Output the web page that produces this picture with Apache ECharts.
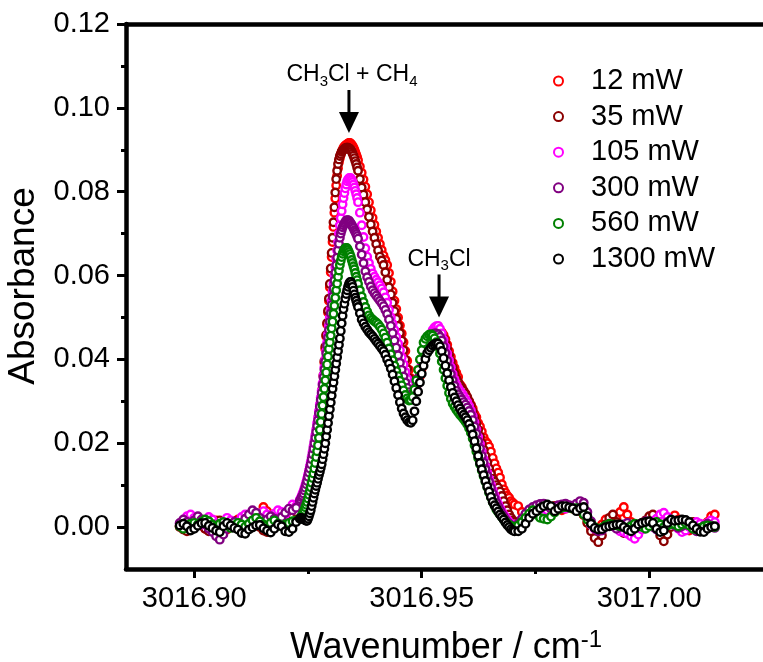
<!DOCTYPE html>
<html>
<head>
<meta charset="utf-8">
<script src="https://cdn.jsdelivr.net/npm/echarts@6/dist/echarts.min.js"></script>
<style>
  html, body { margin: 0; padding: 0; background: #ffffff; }
  #chart { width: 763px; height: 662px; }
</style>
</head>
<body>
<div id="chart"></div>
<script>
// Wavenumber grid of the scans (cm-1): coarse on the baseline, finer across the bands
const wavenumber = [
  // 3016.8968 - 3016.9232, 0.0008 steps
  3016.8968, 3016.8976, 3016.8984, 3016.8992, 3016.9000, 3016.9008, 3016.9016, 3016.9024, 3016.9032, 3016.9040,
  3016.9048, 3016.9056, 3016.9064, 3016.9072, 3016.9080, 3016.9088, 3016.9096, 3016.9104, 3016.9112, 3016.9120,
  3016.9128, 3016.9136, 3016.9144, 3016.9152, 3016.9160, 3016.9168, 3016.9176, 3016.9184, 3016.9192, 3016.9200,
  3016.9208, 3016.9216, 3016.9224, 3016.9232,
  // 3016.9234 - 3016.9360, 0.0002 steps
  3016.9234, 3016.9236, 3016.9238, 3016.9240, 3016.9242, 3016.9244, 3016.9246, 3016.9248,
  3016.9250, 3016.9252, 3016.9254, 3016.9256, 3016.9258, 3016.9260, 3016.9262, 3016.9264,
  3016.9266, 3016.9268, 3016.9270, 3016.9272, 3016.9274, 3016.9276, 3016.9278, 3016.9280,
  3016.9282, 3016.9284, 3016.9286, 3016.9288, 3016.9290, 3016.9292, 3016.9294, 3016.9296,
  3016.9298, 3016.9300, 3016.9302, 3016.9304, 3016.9306, 3016.9308, 3016.9310, 3016.9312,
  3016.9314, 3016.9316, 3016.9318, 3016.9320, 3016.9322, 3016.9324, 3016.9326, 3016.9328,
  3016.9330, 3016.9332, 3016.9334, 3016.9336, 3016.9338, 3016.9340, 3016.9342, 3016.9344,
  3016.9346, 3016.9348, 3016.9350, 3016.9352, 3016.9354, 3016.9356, 3016.9358, 3016.9360,
  // 3016.9364 - 3016.9704, 0.0004 steps
  3016.9364, 3016.9368, 3016.9372, 3016.9376, 3016.9380, 3016.9384, 3016.9388, 3016.9392, 3016.9396, 3016.9400,
  3016.9404, 3016.9408, 3016.9412, 3016.9416, 3016.9420, 3016.9424, 3016.9428, 3016.9432, 3016.9436, 3016.9440,
  3016.9444, 3016.9448, 3016.9452, 3016.9456, 3016.9460, 3016.9464, 3016.9468, 3016.9472, 3016.9476, 3016.9480,
  3016.9484, 3016.9488, 3016.9492, 3016.9496, 3016.9500, 3016.9504, 3016.9508, 3016.9512, 3016.9516, 3016.9520,
  3016.9524, 3016.9528, 3016.9532, 3016.9536, 3016.9540, 3016.9544, 3016.9548, 3016.9552, 3016.9556, 3016.9560,
  3016.9564, 3016.9568, 3016.9572, 3016.9576, 3016.9580, 3016.9584, 3016.9588, 3016.9592, 3016.9596, 3016.9600,
  3016.9604, 3016.9608, 3016.9612, 3016.9616, 3016.9620, 3016.9624, 3016.9628, 3016.9632, 3016.9636, 3016.9640,
  3016.9644, 3016.9648, 3016.9652, 3016.9656, 3016.9660, 3016.9664, 3016.9668, 3016.9672, 3016.9676, 3016.9680,
  3016.9684, 3016.9688, 3016.9692, 3016.9696, 3016.9700, 3016.9704,
  // 3016.9712 - 3017.0144, 0.0008 steps
  3016.9712, 3016.9720, 3016.9728, 3016.9736, 3016.9744, 3016.9752, 3016.9760, 3016.9768, 3016.9776, 3016.9784,
  3016.9792, 3016.9800, 3016.9808, 3016.9816, 3016.9824, 3016.9832, 3016.9840, 3016.9848, 3016.9856, 3016.9864,
  3016.9872, 3016.9880, 3016.9888, 3016.9896, 3016.9904, 3016.9912, 3016.9920, 3016.9928, 3016.9936, 3016.9944,
  3016.9952, 3016.9960, 3016.9968, 3016.9976, 3016.9984, 3016.9992, 3017.0000, 3017.0008, 3017.0016, 3017.0024,
  3017.0032, 3017.0040, 3017.0048, 3017.0056, 3017.0064, 3017.0072, 3017.0080, 3017.0088, 3017.0096, 3017.0104,
  3017.0112, 3017.0120, 3017.0128, 3017.0136, 3017.0144
];

// Absorbance at each laser power, on the grid above
const abs12mW = [
  0.0002, -0.0004, -0.0008, -0.0002, 0.0006, 0.0012, 0.0004, -0.0004, 0.0002, 0.0010,
  0.0016, 0.0008, 0.0000, -0.0006, 0.0002, 0.0012, 0.0018, 0.0010, 0.0002, -0.0004,
  0.0004, 0.0016, 0.0030, 0.0048, 0.0038, 0.0020, 0.0008, 0.0004, 0.0012, 0.0022,
  0.0018, 0.0024, 0.0038, 0.0055,
  0.0060, 0.0066, 0.0072, 0.0078, 0.0085, 0.0092, 0.0100, 0.0108,
  0.0117, 0.0126, 0.0135, 0.0145, 0.0155, 0.0165, 0.0175, 0.0185,
  0.0196, 0.0208, 0.0221, 0.0235, 0.0250, 0.0267, 0.0285, 0.0305,
  0.0330, 0.0360, 0.0392, 0.0425, 0.0455, 0.0484, 0.0512, 0.0540,
  0.0572, 0.0608, 0.0644, 0.0680, 0.0716, 0.0750, 0.0784, 0.0815,
  0.0838, 0.0856, 0.0870, 0.0880, 0.0888, 0.0895, 0.0900, 0.0905,
  0.0908, 0.0910, 0.0912, 0.0913, 0.0915, 0.0916, 0.0916, 0.0915,
  0.0912, 0.0909, 0.0905, 0.0900, 0.0894, 0.0888, 0.0882, 0.0875,
  0.0860, 0.0845, 0.0829, 0.0812, 0.0794, 0.0775, 0.0756, 0.0738, 0.0721, 0.0705,
  0.0690, 0.0675, 0.0661, 0.0648, 0.0637, 0.0625, 0.0606, 0.0585, 0.0562, 0.0540,
  0.0520, 0.0500, 0.0481, 0.0462, 0.0441, 0.0420, 0.0397, 0.0375, 0.0355, 0.0340,
  0.0334, 0.0335, 0.0345, 0.0360, 0.0379, 0.0398, 0.0415, 0.0430, 0.0442, 0.0452,
  0.0460, 0.0465, 0.0468, 0.0470, 0.0469, 0.0465, 0.0458, 0.0448, 0.0435, 0.0420,
  0.0406, 0.0392, 0.0380, 0.0368, 0.0358, 0.0340, 0.0334, 0.0322, 0.0318, 0.0305,
  0.0300, 0.0292, 0.0283, 0.0270, 0.0262, 0.0248, 0.0240, 0.0228, 0.0214, 0.0205,
  0.0200, 0.0192, 0.0180, 0.0165, 0.0152, 0.0140, 0.0130, 0.0118, 0.0102, 0.0090,
  0.0082, 0.0075, 0.0070, 0.0062, 0.0058, 0.0054,
  0.0050, 0.0036, 0.0030, 0.0034, 0.0040, 0.0044, 0.0048, 0.0046, 0.0042, 0.0046,
  0.0050, 0.0046, 0.0040, 0.0044, 0.0048, 0.0044, 0.0040, 0.0038, 0.0028, 0.0012,
  -0.0004, -0.0014, -0.0008, 0.0006, 0.0018, 0.0010, 0.0004, 0.0020, 0.0036, 0.0048,
  0.0030, 0.0012, 0.0000, -0.0006, 0.0004, 0.0014, 0.0020, 0.0016, 0.0008, 0.0000,
  -0.0008, 0.0002, 0.0012, 0.0028, 0.0018, 0.0006, -0.0002, -0.0008, 0.0000, 0.0008,
  0.0004, 0.0000, 0.0012, 0.0026, 0.0030
];
const abs35mW = [
  0.0000, -0.0006, -0.0010, -0.0004, 0.0004, 0.0010, 0.0004, -0.0004, -0.0010, 0.0000,
  0.0010, 0.0016, 0.0008, 0.0000, 0.0006, 0.0014, 0.0010, 0.0002, -0.0004, 0.0004,
  0.0012, 0.0006, 0.0000, -0.0008, -0.0012, -0.0004, 0.0006, 0.0014, 0.0010, 0.0004,
  0.0012, 0.0024, 0.0036, 0.0052,
  0.0057, 0.0063, 0.0069, 0.0075, 0.0082, 0.0089, 0.0097, 0.0105,
  0.0113, 0.0122, 0.0131, 0.0140, 0.0147, 0.0155, 0.0162, 0.0170,
  0.0182, 0.0195, 0.0210, 0.0225, 0.0242, 0.0260, 0.0280, 0.0300,
  0.0330, 0.0362, 0.0396, 0.0430, 0.0458, 0.0487, 0.0516, 0.0545,
  0.0580, 0.0617, 0.0654, 0.0690, 0.0727, 0.0763, 0.0798, 0.0830,
  0.0850, 0.0866, 0.0877, 0.0885, 0.0890, 0.0895, 0.0898, 0.0900,
  0.0902, 0.0904, 0.0905, 0.0905, 0.0905, 0.0904, 0.0902, 0.0900,
  0.0896, 0.0891, 0.0886, 0.0880, 0.0873, 0.0866, 0.0858, 0.0850,
  0.0830, 0.0810, 0.0793, 0.0775, 0.0758, 0.0740, 0.0722, 0.0705, 0.0690, 0.0675,
  0.0660, 0.0645, 0.0636, 0.0625, 0.0608, 0.0590, 0.0572, 0.0555, 0.0535, 0.0515,
  0.0497, 0.0480, 0.0463, 0.0445, 0.0422, 0.0400, 0.0377, 0.0355, 0.0340, 0.0330,
  0.0332, 0.0340, 0.0354, 0.0370, 0.0388, 0.0405, 0.0420, 0.0432, 0.0442, 0.0450,
  0.0457, 0.0462, 0.0465, 0.0466, 0.0463, 0.0458, 0.0449, 0.0438, 0.0424, 0.0410,
  0.0395, 0.0380, 0.0367, 0.0355, 0.0346, 0.0338, 0.0331, 0.0325, 0.0318, 0.0310,
  0.0300, 0.0290, 0.0276, 0.0262, 0.0247, 0.0232, 0.0216, 0.0200, 0.0185, 0.0170,
  0.0155, 0.0140, 0.0127, 0.0115, 0.0108, 0.0100, 0.0094, 0.0085, 0.0074, 0.0062,
  0.0050, 0.0040, 0.0030, 0.0022, 0.0016, 0.0012,
  0.0010, 0.0018, 0.0028, 0.0036, 0.0042, 0.0046, 0.0050, 0.0048, 0.0044, 0.0046,
  0.0050, 0.0048, 0.0044, 0.0046, 0.0050, 0.0048, 0.0044, 0.0040, 0.0030, 0.0010,
  -0.0010, -0.0026, -0.0036, -0.0020, 0.0006, 0.0022, 0.0030, 0.0012, -0.0006, -0.0014,
  -0.0010, -0.0020, -0.0012, 0.0000, 0.0010, 0.0016, 0.0026, 0.0030, 0.0018, -0.0020,
  -0.0034, -0.0018, 0.0000, 0.0010, 0.0006, 0.0000, -0.0004, 0.0004, 0.0012, 0.0006,
  -0.0002, -0.0006, 0.0002, 0.0008, 0.0004
];
const abs105mW = [
  0.0008, 0.0016, 0.0026, 0.0030, 0.0022, 0.0012, 0.0006, 0.0014, 0.0024, 0.0018,
  0.0008, 0.0004, 0.0012, 0.0022, 0.0016, 0.0006, 0.0012, 0.0024, 0.0030, 0.0022,
  0.0014, 0.0020, 0.0030, 0.0038, 0.0030, 0.0024, 0.0032, 0.0040, 0.0036, 0.0030,
  0.0042, 0.0054, 0.0050, 0.0065,
  0.0069, 0.0074, 0.0080, 0.0085, 0.0092, 0.0099, 0.0107, 0.0115,
  0.0125, 0.0135, 0.0145, 0.0155, 0.0167, 0.0179, 0.0192, 0.0205,
  0.0219, 0.0233, 0.0248, 0.0262, 0.0277, 0.0293, 0.0309, 0.0325,
  0.0343, 0.0362, 0.0381, 0.0400, 0.0420, 0.0440, 0.0460, 0.0480,
  0.0500, 0.0520, 0.0540, 0.0560, 0.0580, 0.0600, 0.0620, 0.0640,
  0.0660, 0.0680, 0.0700, 0.0720, 0.0737, 0.0754, 0.0770, 0.0785,
  0.0797, 0.0808, 0.0817, 0.0825, 0.0829, 0.0832, 0.0833, 0.0832,
  0.0828, 0.0823, 0.0817, 0.0810, 0.0802, 0.0794, 0.0785, 0.0775,
  0.0750, 0.0720, 0.0692, 0.0665, 0.0645, 0.0630, 0.0616, 0.0605, 0.0597, 0.0590,
  0.0584, 0.0577, 0.0569, 0.0560, 0.0548, 0.0535, 0.0518, 0.0500, 0.0485, 0.0470,
  0.0454, 0.0438, 0.0422, 0.0405, 0.0388, 0.0370, 0.0354, 0.0340, 0.0328, 0.0320,
  0.0322, 0.0330, 0.0346, 0.0365, 0.0385, 0.0405, 0.0423, 0.0440, 0.0452, 0.0462,
  0.0470, 0.0476, 0.0479, 0.0480, 0.0473, 0.0462, 0.0447, 0.0430, 0.0414, 0.0398,
  0.0381, 0.0365, 0.0352, 0.0340, 0.0332, 0.0325, 0.0319, 0.0312, 0.0305, 0.0298,
  0.0289, 0.0278, 0.0265, 0.0250, 0.0233, 0.0215, 0.0198, 0.0180, 0.0162, 0.0145,
  0.0130, 0.0115, 0.0101, 0.0088, 0.0076, 0.0065, 0.0055, 0.0046, 0.0038, 0.0030,
  0.0024, 0.0018, 0.0012, 0.0008, 0.0005, 0.0004,
  0.0008, 0.0018, 0.0028, 0.0036, 0.0042, 0.0046, 0.0048, 0.0044, 0.0040, 0.0044,
  0.0048, 0.0050, 0.0048, 0.0044, 0.0046, 0.0050, 0.0052, 0.0046, 0.0036, 0.0020,
  0.0006, -0.0004, -0.0008, -0.0004, 0.0002, 0.0008, 0.0004, -0.0002, -0.0010, -0.0012,
  -0.0016, -0.0022, -0.0028, -0.0018, -0.0006, 0.0004, 0.0010, 0.0014, 0.0020, 0.0030,
  0.0034, 0.0024, 0.0012, 0.0004, -0.0004, -0.0012, -0.0008, 0.0000, 0.0006, 0.0012,
  0.0008, 0.0004, 0.0010, 0.0016, 0.0012
];
const abs300mW = [
  0.0010, 0.0018, 0.0012, 0.0006, 0.0016, 0.0026, 0.0018, 0.0006, -0.0004, -0.0012,
  -0.0022, -0.0030, -0.0018, -0.0004, 0.0006, 0.0012, 0.0004, 0.0010, 0.0020, 0.0030,
  0.0040, 0.0034, 0.0022, 0.0012, 0.0018, 0.0026, 0.0020, 0.0014, 0.0024, 0.0034,
  0.0044, 0.0040, 0.0046, 0.0062,
  0.0066, 0.0071, 0.0075, 0.0080, 0.0087, 0.0094, 0.0102, 0.0110,
  0.0120, 0.0130, 0.0140, 0.0150, 0.0162, 0.0174, 0.0187, 0.0200,
  0.0213, 0.0227, 0.0241, 0.0255, 0.0271, 0.0287, 0.0303, 0.0320,
  0.0339, 0.0357, 0.0376, 0.0395, 0.0414, 0.0433, 0.0452, 0.0470,
  0.0490, 0.0510, 0.0530, 0.0550, 0.0569, 0.0588, 0.0607, 0.0625,
  0.0643, 0.0660, 0.0676, 0.0690, 0.0700, 0.0708, 0.0715, 0.0720,
  0.0724, 0.0728, 0.0731, 0.0732, 0.0732, 0.0731, 0.0728, 0.0725,
  0.0721, 0.0717, 0.0713, 0.0708, 0.0704, 0.0699, 0.0694, 0.0688,
  0.0670, 0.0650, 0.0630, 0.0610, 0.0596, 0.0585, 0.0574, 0.0565, 0.0558, 0.0552,
  0.0546, 0.0540, 0.0534, 0.0527, 0.0518, 0.0508, 0.0495, 0.0480, 0.0463, 0.0445,
  0.0428, 0.0410, 0.0392, 0.0375, 0.0359, 0.0345, 0.0332, 0.0322, 0.0316, 0.0315,
  0.0322, 0.0335, 0.0355, 0.0375, 0.0395, 0.0415, 0.0430, 0.0442, 0.0449, 0.0455,
  0.0459, 0.0462, 0.0462, 0.0460, 0.0454, 0.0445, 0.0431, 0.0415, 0.0397, 0.0380,
  0.0365, 0.0350, 0.0337, 0.0325, 0.0317, 0.0310, 0.0304, 0.0298, 0.0292, 0.0285,
  0.0277, 0.0268, 0.0255, 0.0240, 0.0223, 0.0205, 0.0188, 0.0170, 0.0154, 0.0138,
  0.0123, 0.0108, 0.0094, 0.0080, 0.0069, 0.0058, 0.0049, 0.0040, 0.0032, 0.0025,
  0.0018, 0.0012, 0.0008, 0.0004, 0.0002, 0.0000,
  0.0008, 0.0020, 0.0032, 0.0042, 0.0048, 0.0052, 0.0055, 0.0056, 0.0050, 0.0044,
  0.0046, 0.0052, 0.0054, 0.0056, 0.0052, 0.0050, 0.0056, 0.0062, 0.0058, 0.0036,
  0.0014, -0.0002, -0.0010, -0.0008, 0.0002, 0.0006, 0.0002, -0.0004, 0.0000, 0.0006,
  0.0010, 0.0004, -0.0002, 0.0004, 0.0010, 0.0014, 0.0008, 0.0000, -0.0006, -0.0002,
  0.0006, 0.0012, 0.0010, 0.0004, -0.0002, 0.0002, 0.0008, 0.0004, -0.0004, -0.0010,
  -0.0006, 0.0002, 0.0008, 0.0004, -0.0002
];
const abs560mW = [
  0.0002, -0.0004, 0.0002, 0.0008, 0.0010, 0.0006, 0.0012, 0.0018, 0.0014, 0.0006,
  0.0002, 0.0008, 0.0012, 0.0004, -0.0002, 0.0004, 0.0010, 0.0006, 0.0001, 0.0008,
  0.0016, 0.0022, 0.0014, 0.0006, 0.0003, 0.0010, 0.0016, 0.0008, 0.0002, 0.0006,
  0.0010, 0.0014, 0.0016, 0.0020,
  0.0023, 0.0027, 0.0031, 0.0035, 0.0041, 0.0047, 0.0053, 0.0060,
  0.0068, 0.0077, 0.0086, 0.0095, 0.0106, 0.0117, 0.0128, 0.0140,
  0.0153, 0.0167, 0.0181, 0.0195, 0.0213, 0.0232, 0.0251, 0.0270,
  0.0290, 0.0310, 0.0330, 0.0350, 0.0369, 0.0388, 0.0407, 0.0425,
  0.0441, 0.0457, 0.0474, 0.0490, 0.0509, 0.0528, 0.0547, 0.0565,
  0.0581, 0.0597, 0.0612, 0.0625, 0.0635, 0.0644, 0.0652, 0.0658,
  0.0662, 0.0665, 0.0666, 0.0665, 0.0661, 0.0656, 0.0651, 0.0645,
  0.0637, 0.0630, 0.0622, 0.0615, 0.0606, 0.0597, 0.0589, 0.0580,
  0.0565, 0.0550, 0.0537, 0.0525, 0.0514, 0.0505, 0.0499, 0.0495, 0.0491, 0.0488,
  0.0484, 0.0478, 0.0471, 0.0462, 0.0452, 0.0440, 0.0426, 0.0412, 0.0398, 0.0385,
  0.0372, 0.0360, 0.0349, 0.0338, 0.0326, 0.0315, 0.0307, 0.0302, 0.0303, 0.0310,
  0.0328, 0.0350, 0.0375, 0.0400, 0.0422, 0.0440, 0.0449, 0.0455, 0.0459, 0.0460,
  0.0457, 0.0450, 0.0441, 0.0430, 0.0414, 0.0395, 0.0375, 0.0355, 0.0337, 0.0320,
  0.0306, 0.0295, 0.0287, 0.0280, 0.0274, 0.0268, 0.0263, 0.0258, 0.0252, 0.0245,
  0.0236, 0.0225, 0.0211, 0.0195, 0.0180, 0.0165, 0.0150, 0.0135, 0.0121, 0.0108,
  0.0095, 0.0082, 0.0071, 0.0060, 0.0051, 0.0042, 0.0036, 0.0030, 0.0024, 0.0018,
  0.0013, 0.0008, 0.0005, 0.0002, 0.0001, 0.0000,
  0.0004, 0.0012, 0.0022, 0.0032, 0.0040, 0.0030, 0.0022, 0.0020, 0.0018, 0.0025,
  0.0035, 0.0042, 0.0046, 0.0048, 0.0046, 0.0044, 0.0045, 0.0040, 0.0030, 0.0018,
  0.0008, 0.0000, -0.0004, -0.0002, 0.0004, 0.0008, 0.0006, 0.0004, 0.0002, 0.0000,
  -0.0004, 0.0002, 0.0008, 0.0006, 0.0000, -0.0004, 0.0002, 0.0008, 0.0012, 0.0006,
  0.0000, 0.0004, 0.0008, 0.0006, 0.0002, 0.0006, 0.0010, 0.0004, -0.0004, -0.0006,
  -0.0002, 0.0002, 0.0004, 0.0002, 0.0000
];
const abs1300mW = [
  0.0004, 0.0008, 0.0002, -0.0008, -0.0004, 0.0003, 0.0009, 0.0010, 0.0003, -0.0002,
  -0.0008, -0.0012, 0.0002, 0.0010, 0.0004, -0.0002, -0.0006, -0.0014, -0.0016, -0.0006,
  -0.0001, 0.0004, 0.0005, -0.0003, -0.0008, -0.0013, -0.0004, 0.0006, 0.0002, -0.0010,
  -0.0012, -0.0004, 0.0012, 0.0020,
  0.0022, 0.0021, 0.0020, 0.0020, 0.0018, 0.0016, 0.0015, 0.0015,
  0.0020, 0.0026, 0.0033, 0.0040, 0.0050, 0.0060, 0.0070, 0.0080,
  0.0089, 0.0098, 0.0106, 0.0115, 0.0124, 0.0132, 0.0141, 0.0150,
  0.0162, 0.0174, 0.0187, 0.0200, 0.0216, 0.0232, 0.0248, 0.0265,
  0.0281, 0.0297, 0.0314, 0.0330, 0.0345, 0.0360, 0.0375, 0.0390,
  0.0405, 0.0420, 0.0435, 0.0450, 0.0468, 0.0486, 0.0504, 0.0520,
  0.0533, 0.0545, 0.0556, 0.0565, 0.0573, 0.0580, 0.0584, 0.0585,
  0.0580, 0.0573, 0.0564, 0.0555, 0.0547, 0.0540, 0.0532, 0.0525,
  0.0510, 0.0495, 0.0486, 0.0478, 0.0471, 0.0465, 0.0460, 0.0455, 0.0449, 0.0443,
  0.0438, 0.0432, 0.0426, 0.0420, 0.0411, 0.0400, 0.0390, 0.0378, 0.0364, 0.0348,
  0.0332, 0.0315, 0.0298, 0.0283, 0.0271, 0.0262, 0.0255, 0.0250, 0.0249, 0.0255,
  0.0276, 0.0300, 0.0323, 0.0345, 0.0366, 0.0385, 0.0401, 0.0415, 0.0422, 0.0428,
  0.0433, 0.0436, 0.0438, 0.0438, 0.0431, 0.0420, 0.0403, 0.0385, 0.0367, 0.0350,
  0.0334, 0.0320, 0.0309, 0.0300, 0.0291, 0.0283, 0.0275, 0.0268, 0.0262, 0.0255,
  0.0246, 0.0235, 0.0221, 0.0205, 0.0188, 0.0170, 0.0153, 0.0138, 0.0124, 0.0110,
  0.0097, 0.0085, 0.0072, 0.0060, 0.0052, 0.0045, 0.0037, 0.0030, 0.0024, 0.0018,
  0.0011, 0.0005, 0.0000, -0.0005, -0.0008, -0.0010,
  -0.0010, -0.0004, 0.0008, 0.0022, 0.0032, 0.0038, 0.0045, 0.0050, 0.0054, 0.0050,
  0.0038, 0.0044, 0.0050, 0.0050, 0.0047, 0.0045, 0.0038, 0.0045, 0.0048, 0.0026,
  0.0008, -0.0002, -0.0006, -0.0005, 0.0000, 0.0002, 0.0004, 0.0006, 0.0006, 0.0000,
  -0.0006, -0.0010, -0.0004, 0.0006, 0.0010, 0.0012, 0.0014, 0.0010, -0.0004, -0.0012,
  -0.0008, 0.0010, 0.0018, 0.0015, 0.0016, 0.0018, 0.0017, 0.0012, 0.0004, -0.0004,
  -0.0011, -0.0012, -0.0004, 0.0000, 0.0002
];

const seriesNames = ['12 mW', '35 mW', '105 mW', '300 mW', '560 mW', '1300 mW'];
const seriesValues = [abs12mW, abs35mW, abs105mW, abs300mW, abs560mW, abs1300mW];
const seriesColors = ['#ff0000', '#8b0000', '#ff00ff', '#800080', '#008000', '#000000'];

// Axis ticks
const yMajorTicks = [0, 0.02, 0.04, 0.06, 0.08, 0.10, 0.12];
const yMinorTicks = [0.01, 0.03, 0.05, 0.07, 0.09, 0.11];
const xMajorTicks = [3016.90, 3016.95, 3017.00];
const xMinorTicks = [3016.925, 3016.975];

// Band assignments: arrow tip (wavenumber, absorbance)
const bandLabels = [
  { text: '{n|CH}{s|3}{n|Cl + CH}{s|4}', tip: [3016.9340, 0.0940], dx: 3 },
  { text: '{n|CH}{s|3}{n|Cl}', tip: [3016.9538, 0.0500], dx: 0 }
];

const FONT = '"Liberation Sans", Arial, Helvetica, sans-serif';
const X_MIN = 3016.885, X_MAX = 3017.025;
const Y_MIN = -0.01, Y_MAX = 0.12;

const chart = echarts.init(document.getElementById('chart'), null, { renderer: 'canvas' });

const axisLineStyle = { color: '#000', width: 4.5 };
const tickStyle = { color: '#000', width: 3 };

const option = {
  animation: false,
  backgroundColor: '#ffffff',
  grid: { left: 126, top: 24, width: 642, height: 545, containLabel: false },
  xAxis: [
    {
      type: 'value', position: 'bottom', min: X_MIN, max: X_MAX,
      axisLine: { show: true, onZero: false, lineStyle: axisLineStyle },
      axisTick: { show: true, customValues: xMajorTicks, length: 9, lineStyle: tickStyle },
      axisLabel: {
        customValues: xMajorTicks, formatter: v => v.toFixed(2),
        fontSize: 29, fontFamily: FONT, color: '#000', margin: 15
      },
      splitLine: { show: false }
    },
    {
      type: 'value', position: 'bottom', min: X_MIN, max: X_MAX,
      axisLine: { show: false, onZero: false },
      axisTick: { show: true, customValues: xMinorTicks, length: 5, lineStyle: tickStyle },
      axisLabel: { show: false },
      splitLine: { show: false }
    },
    {
      type: 'value', position: 'top', min: X_MIN, max: X_MAX,
      axisLine: { show: true, onZero: false, lineStyle: axisLineStyle },
      axisTick: { show: false }, axisLabel: { show: false }, splitLine: { show: false }
    }
  ],
  yAxis: [
    {
      type: 'value', position: 'left', min: Y_MIN, max: Y_MAX,
      axisLine: { show: true, onZero: false, lineStyle: axisLineStyle },
      axisTick: { show: true, customValues: yMajorTicks, length: 9, lineStyle: tickStyle },
      axisLabel: {
        customValues: yMajorTicks, formatter: v => v.toFixed(2),
        fontSize: 29, fontFamily: FONT, color: '#000', margin: 16
      },
      splitLine: { show: false }
    },
    {
      type: 'value', position: 'left', min: Y_MIN, max: Y_MAX,
      axisLine: { show: false, onZero: false },
      axisTick: { show: true, customValues: yMinorTicks, length: 5, lineStyle: tickStyle },
      axisLabel: { show: false },
      splitLine: { show: false }
    }
  ],
  legend: {
    orient: 'vertical', left: 548, top: 61,
    itemWidth: 9, itemHeight: 9, itemGap: 5.6,
    textStyle: { fontSize: 29, fontFamily: FONT, color: '#000', lineHeight: 30, padding: [0, 0, 0, 23] },
    data: seriesNames.map((name, i) => ({
      name, icon: 'circle',
      itemStyle: { color: '#ffffff', borderColor: seriesColors[i], borderWidth: 2 }
    }))
  },
  series: seriesNames.map((name, i) => ({
    name, type: 'scatter', xAxisIndex: 0, yAxisIndex: 0,
    symbol: 'circle', symbolSize: 7.5,
    itemStyle: { color: '#ffffff', borderColor: seriesColors[i], borderWidth: 2.4, opacity: 1 },
    emphasis: { disabled: true },
    z: 2 + i,
    data: wavenumber.map((w, j) => [w, seriesValues[i][j]])
  }))
};

chart.setOption(option);

// Axis titles and band assignments
const graphics = [
  {
    type: 'text', x: 24, y: 286, rotation: Math.PI / 2,
    style: { text: 'Absorbance', fontSize: 37, fontFamily: FONT, fill: '#000', align: 'center', verticalAlign: 'middle' }
  },
  {
    type: 'text', x: 446, y: 648,
    style: {
      text: '{n|Wavenumber / cm}{s|-1}', align: 'center', verticalAlign: 'middle',
      rich: {
        n: { fontSize: 36, fontFamily: FONT, fill: '#000', lineHeight: 40, verticalAlign: 'middle' },
        s: { fontSize: 24, fontFamily: FONT, fill: '#000', lineHeight: 24, verticalAlign: 'top' }
      }
    }
  }
];

bandLabels.forEach(b => {
  const p = chart.convertToPixel({ xAxisIndex: 0, yAxisIndex: 0 }, b.tip);
  const x = p[0], y = p[1];
  graphics.push({
    type: 'polygon', shape: { points: [[x, y], [x - 10, y - 21], [x + 10, y - 21]] },
    style: { fill: '#000' }, z: 100
  });
  graphics.push({
    type: 'line', shape: { x1: x, y1: y - 20, x2: x, y2: y - 43 },
    style: { stroke: '#000', lineWidth: 3 }, z: 100
  });
  graphics.push({
    type: 'text', x: x + b.dx, y: y - 44, z: 100,
    style: {
      text: b.text, align: 'center', verticalAlign: 'bottom',
      rich: {
        n: { fontSize: 23, fontFamily: FONT, fill: '#000', lineHeight: 28, verticalAlign: 'middle' },
        s: { fontSize: 15, fontFamily: FONT, fill: '#000', lineHeight: 15, verticalAlign: 'bottom' }
      }
    }
  });
});

chart.setOption({ graphic: graphics });
</script>
</body>
</html>
